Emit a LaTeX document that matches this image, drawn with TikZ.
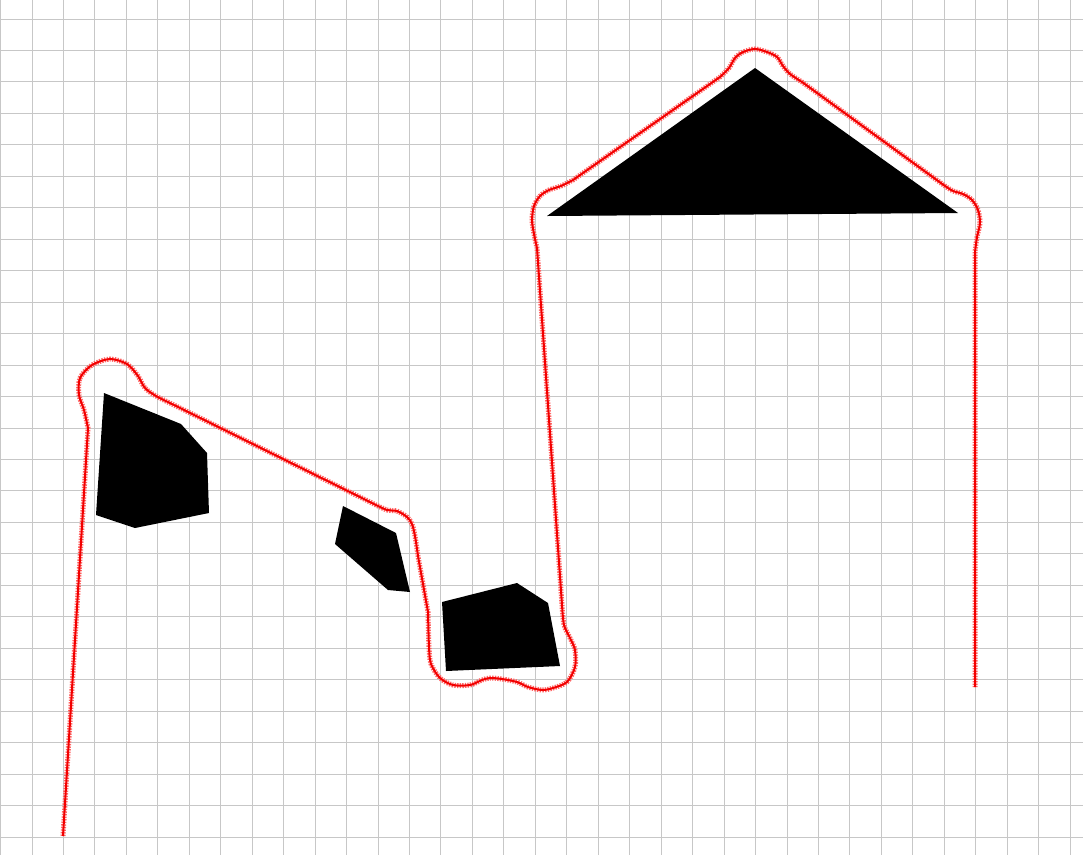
\documentclass[tikz,border=0pt]{standalone}
\usepackage{tikz}
\newcommand{\Cell}{31.46}

\begin{document}
\begin{tikzpicture}[x=1pt,y=-1pt,
  gridline/.style={black!22,line width=0.9pt},
  obstacle/.style={fill=black},
  routefuzz/.style={red!60,line width=5pt,dash pattern=on 1.4pt off 1.2pt},
  route/.style={red!95!black,line width=2pt,line join=round}]
\useasboundingbox (0,0) rectangle (1083,855);
\fill[white] (0,0) rectangle (1083,855);
\foreach \i in {0,...,34}{\draw[gridline] ({0.5+\Cell*\i},0)--({0.5+\Cell*\i},855);}
\foreach \j in {0,...,26}{\draw[gridline] (0,{19+\Cell*\j})--(1083,{19+\Cell*\j});}
% obstacles
\fill[obstacle] (104,393)--(181,424)--(207,453)--(209,513)--(135,528)--(96,515)--cycle;
\fill[obstacle] (343,506)--(396,533)--(410,592)--(388,590)--(335,544)--cycle;
\fill[obstacle] (442,602)--(517,583)--(548,603)--(560,666)--(446,671)--cycle;
\fill[obstacle] (547,216)--(755,68)--(958,213)--cycle;
% planned route: straight legs, smooth bends round the corners
\foreach \s in {routefuzz,route}{
\draw[\s] (63,836)
  -- plot[smooth,tension=0.5] coordinates {(88,428) (84,410) (79,395) (80,378)
     (92,365) (110,359) (127,364) (138,376) (145,388) (156,396) (172,404)}
  -- plot[smooth,tension=0.5] coordinates {(372,503) (387,510) (397,511)
     (407,517) (412,524) (415,536) (418,556)}
  -- plot[smooth,tension=0.5] coordinates {(428,612) (429,647) (431,664)
     (440,678) (453,685) (470,685) (482,680) (490,678) (502,679) (517,682)
     (528,687) (542,690) (553,688) (567,682) (575,667) (575,650) (570,638)
     (564,625) (562,605)}
  -- plot[smooth,tension=0.5] coordinates {(537,248) (534,234) (532,220)
     (534,206) (540,196) (549,190) (561,186) (573,180)}
  -- plot[smooth,tension=0.5] coordinates {(720,77) (729,68) (735,58)
     (743,52) (755,49) (767,52) (777,57) (783,66) (790,74) (802,82)}
  -- plot[smooth,tension=0.5] coordinates {(945,186) (953,191) (963,194)
     (972,200) (978,210) (980,223) (977,237) (975,252)}
  -- (975,687);}
\end{tikzpicture}
\end{document}
